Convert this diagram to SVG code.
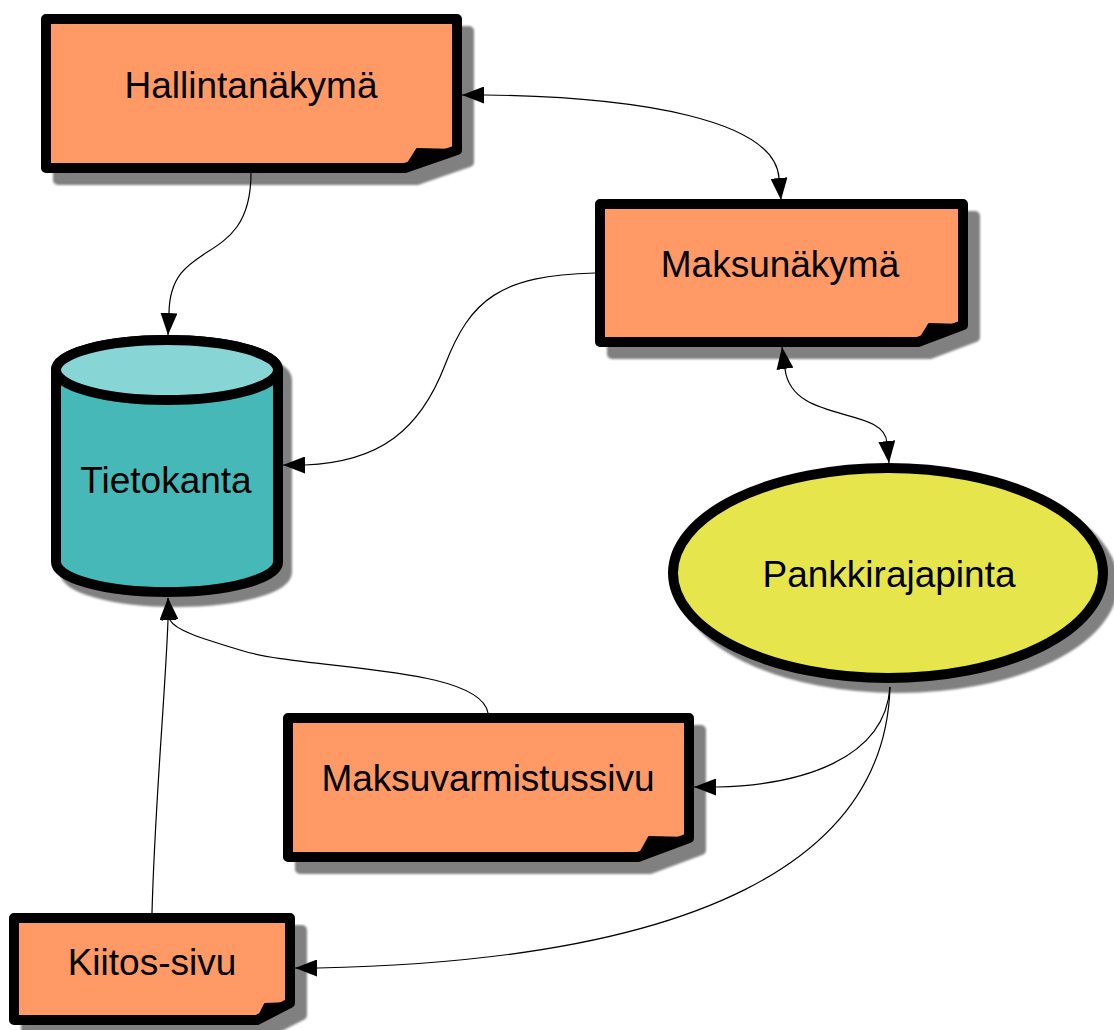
<svg xmlns="http://www.w3.org/2000/svg" width="1114" height="1030" viewBox="0 0 1114 1030">
<style>
.note{fill:#FF9966;stroke:#000;stroke-width:10;stroke-linejoin:round}
.shadow{fill:#808080;stroke:#808080;stroke-width:10;stroke-linejoin:round;filter:url(#blur)}
.fold{fill:#000;stroke:#000;stroke-width:2;stroke-linejoin:round}
.lbl{font-family:"Liberation Sans",Arial,sans-serif;font-size:37px;fill:#000;text-anchor:middle}
.edge{fill:none;stroke:#000;stroke-width:1.2;marker-end:url(#arr)}
.both{marker-start:url(#arr)}
</style>
<defs>
<filter id="blur" x="-5%" y="-5%" width="110%" height="110%"><feGaussianBlur stdDeviation="1"/></filter>
<marker id="arr" viewBox="0 0 22 17" refX="22" refY="8.5" markerWidth="22" markerHeight="17" markerUnits="userSpaceOnUse" orient="auto-start-reverse">
<path d="M0,0 L22,8.5 L0,17 Z" fill="#000"/>
</marker>
</defs>
<rect width="1114" height="1030" fill="#fff"/>

<g id="hallintanakyma">
<path class="shadow" transform="translate(12,12)" d="M46,19 H457 V150 L405,168 H46 Z"/>
<path class="note" d="M46,19 H457 V150 L405,168 H46 Z"/>
<path class="fold" d="M405,168 L417,149 L457,150 Z"/>
<text class="lbl" x="251" y="98">Hallintanäkymä</text>
</g>

<g id="maksunakyma">
<path class="shadow" transform="translate(12,12)" d="M600,204 H963 V325 L918,342 H600 Z"/>
<path class="note" d="M600,204 H963 V325 L918,342 H600 Z"/>
<path class="fold" d="M918,342 L929,324 L963,325 Z"/>
<text class="lbl" x="780" y="277">Maksunäkymä</text>
</g>

<g id="tietokanta">
<path class="shadow" transform="translate(9,10)" d="M56,370 V562 A111,30 0 0 0 278,562 V370 A111,30 0 0 0 56,370 Z"/>
<path d="M56,370 V562 A111,30 0 0 0 278,562 V370 A111,30 0 0 0 56,370 Z" fill="#46B8B7" stroke="#000" stroke-width="10" stroke-linejoin="round"/>
<ellipse cx="167" cy="370" rx="111" ry="30" fill="#88D5D5" stroke="#000" stroke-width="10"/>
<text class="lbl" x="166" y="493">Tietokanta</text>
</g>

<g id="pankkirajapinta">
<ellipse class="shadow" cx="898" cy="583" rx="215" ry="105"/>
<ellipse cx="888" cy="573" rx="215" ry="105" fill="#E6E64C" stroke="#000" stroke-width="10"/>
<text class="lbl" x="889" y="587">Pankkirajapinta</text>
</g>

<g id="maksuvarmistussivu">
<path class="shadow" transform="translate(12,12)" d="M288,718 H689 V838 L638,857 H288 Z"/>
<path class="note" d="M288,718 H689 V838 L638,857 H288 Z"/>
<path class="fold" d="M638,857 L649,837 L689,838 Z"/>
<text class="lbl" x="488" y="791">Maksuvarmistussivu</text>
</g>

<g id="kiitos-sivu">
<path class="shadow" transform="translate(12,12)" d="M14,918 H290 V1003 L257,1020 H14 Z"/>
<path class="note" d="M14,918 H290 V1003 L257,1020 H14 Z"/>
<path class="fold" d="M257,1020 L265,1004 L290,1003 Z"/>
<text class="lbl" x="152" y="975">Kiitos-sivu</text>
</g>

<g id="connectors">
<path class="edge both" d="M462,95 L485,95 C640,97 775,120 779,178 L781,200"/>
<path class="edge" d="M251,173 C251,270 170,235 169,313 L168,335"/>
<path class="edge" d="M595,273 C500,275 470,300 445,365 C420,430 380,462 305,465 L283,465"/>
<path class="edge both" d="M782,347 L785,369 C792,425 885,405 887,443 L889,463"/>
<path class="edge" d="M488,713 C480,665 300,670 240,650 C200,638 175,630 170,620 L168,598"/>
<path class="edge" d="M152,913 C155,800 165,700 168,620 L168,598"/>
<path class="edge" d="M890,687 C885,760 800,785 717,787 L694,787"/>
<path class="edge" d="M890,687 C885,860 700,960 318,968 L295,968"/>
</g>
</svg>
